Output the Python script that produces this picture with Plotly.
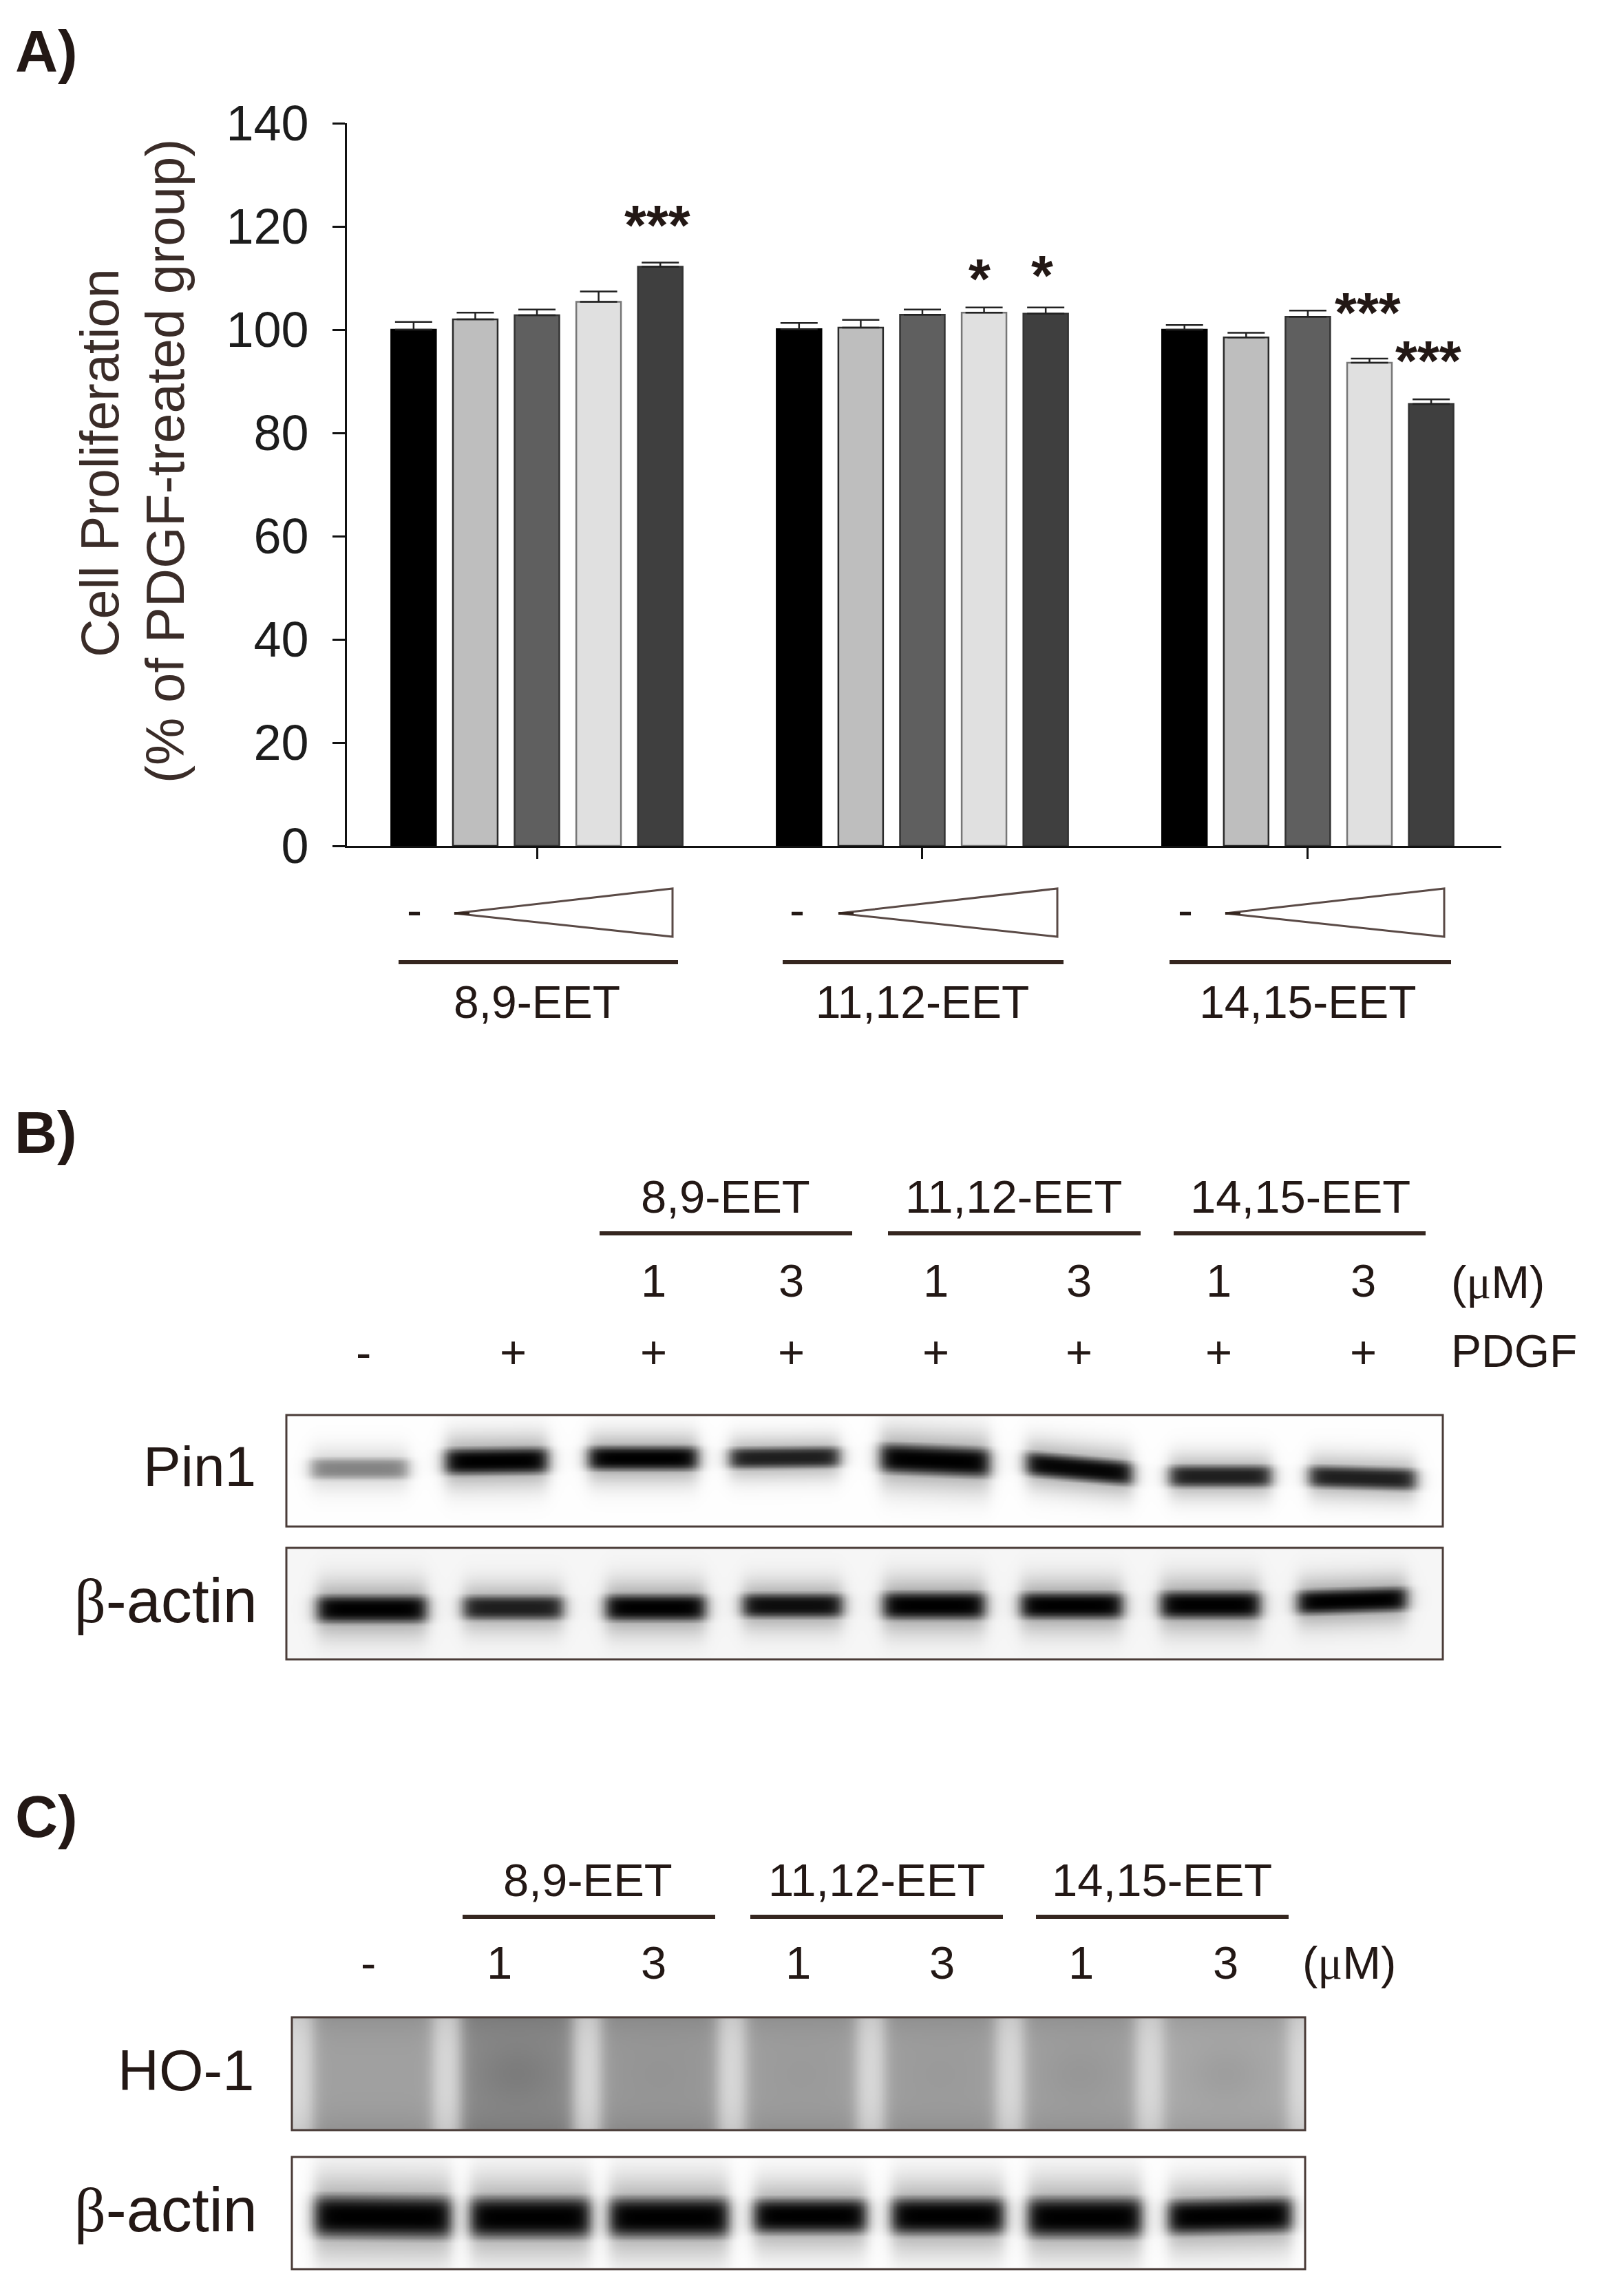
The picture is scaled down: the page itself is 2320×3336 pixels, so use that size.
import numpy as np
import plotly.graph_objects as go

W, H = 2320, 3336
SANS = "Liberation Sans, Arial, sans-serif"
TXT = "#231815"

# ---------- Panel A data ----------
groups = ["8,9-EET", "11,12-EET", "14,15-EET"]
dose_1 = [100.0, 100.1, 100.0]
dose_2 = [102.0, 100.4, 98.5]
dose_3 = [102.8, 102.9, 102.5]
dose_4 = [105.4, 103.3, 93.6]
dose_5 = [112.2, 103.1, 85.6]
err_1 = [1.5, 1.2, 0.9]
err_2 = [1.3, 1.5, 0.9]
err_3 = [1.1, 1.0, 1.2]
err_4 = [2.0, 1.0, 0.8]
err_5 = [0.8, 1.2, 0.9]
y_ticks = [0, 20, 40, 60, 80, 100, 120, 140]
fills = ["#000000", "#bebebe", "#5f5f5f", "#e0e0e0", "#3f3f3f"]
edges = ["#000000", "#2a2a2a", "#333333", "#777777", "#333333"]

# text, x, y (page pixels)
stars = [("***", 957, 314), ("*", 1425, 392), ("*", 1516, 387),
         ("***", 1989, 441), ("***", 2077, 511)]

# ---------- Blot data: (left, right, centre-left, centre-right, thickness, darkness) ----------
pin1_lanes = [
    (448, 597, 2134, 2134, 20, 0.48), (643, 800, 2124, 2122, 25, 1.0),
    (851, 1018, 2119, 2119, 23, 1.0), (1056, 1224, 2119, 2117, 20, 0.88),
    (1275, 1442, 2118, 2126, 28, 1.0), (1487, 1649, 2126, 2142, 23, 0.98),
    (1695, 1851, 2145, 2145, 21, 0.88), (1898, 2061, 2145, 2150, 21, 0.88),
]
actin_b_lanes = [
    (457, 624, 2338, 2338, 26, 1.0), (669, 822, 2336, 2336, 23, 0.88),
    (876, 1029, 2336, 2336, 25, 1.0), (1075, 1228, 2333, 2333, 23, 0.95),
    (1279, 1435, 2333, 2333, 26, 1.0), (1479, 1635, 2333, 2333, 25, 1.0),
    (1682, 1835, 2332, 2332, 26, 1.0), (1881, 2048, 2329, 2323, 23, 1.0),
]
actin_c_lanes = [
    (453, 660, 3220, 3222, 40, 1.0), (679, 862, 3222, 3222, 39, 1.0),
    (881, 1063, 3222, 3222, 38, 1.0), (1091, 1263, 3220, 3220, 33, 1.0),
    (1291, 1463, 3220, 3220, 35, 1.0), (1489, 1663, 3222, 3222, 38, 1.0),
    (1693, 1881, 3222, 3218, 33, 1.0),
]
# HO-1 smear: lane edges and grey levels
ho1_lane_edges = [435, 649, 853, 1063, 1265, 1467, 1670, 1891]
ho1_lane_grey = [160, 138, 152, 158, 158, 160, 170]
ho1_lane_core = [0, 14, 4, 4, 4, 9, 12]
ho1_stripe_grey = 218


def smooth(t):
    return 1.0 / (1.0 + np.exp(-t))


def band_image(x0, x1, y0, y1, lanes, bg):
    xs = np.arange(x0, x1, 2.0)
    ys = np.arange(y0, y1, 2.0)
    X, Y = np.meshgrid(xs, ys)
    keep = np.ones_like(X)
    for xl, xr, yl, yr, th, dark in lanes:
        t = (X - xl) / (xr - xl)
        dy = Y - (yl + (yr - yl) * t)
        ends = smooth((X - xl - 4) / 6) * smooth((xr - X - 4) / 6)
        core = np.exp(-np.abs(dy / (th * 0.85)) ** 3)
        halo = 0.38 * np.exp(-(dy / (th * 1.5)) ** 2)
        keep *= 1 - dark * np.clip(np.maximum(core, halo) * ends, 0, 1)
    return xs, ys, bg * keep


def ho1_image(x0, x1, y0, y1):
    xs = np.arange(x0, x1, 2.0)
    ys = np.arange(y0, y1, 2.0)
    X, Y = np.meshgrid(xs, ys)
    z = np.full(X.shape, float(ho1_stripe_grey))
    mid = (y0 + y1) / 2
    for i, g in enumerate(ho1_lane_grey):
        a, b = ho1_lane_edges[i] + 20, ho1_lane_edges[i + 1] - 20
        mask = smooth((X - a) / 6) * smooth((b - X) / 6)
        c = (a + b) / 2
        blob = np.exp(-((X - c) / 60) ** 2 - ((Y - mid) / 45) ** 2)
        z = z * (1 - mask) + (g - ho1_lane_core[i] * blob) * mask
    # edges of the membrane are a little darker than the middle
    z -= 14 * (np.abs(Y - mid) / ((y1 - y0) / 2)) ** 3
    return xs, ys, z


fig = go.Figure()

# ---------- Panel A bars ----------
series = [dose_1, dose_2, dose_3, dose_4, dose_5]
errors = [err_1, err_2, err_3, err_4, err_5]
for i, (vals, err) in enumerate(zip(series, errors)):
    fig.add_trace(go.Bar(
        x=groups, y=vals, name=f"dose {i + 1}",
        marker=dict(color=fills[i], line=dict(color=edges[i], width=2.5)),
        error_y=dict(type="data", array=err, arrayminus=[0, 0, 0], symmetric=False,
                     color="#222222", thickness=2.5, width=27),
        showlegend=False, hoverinfo="y",
    ))

# ---------- Blots ----------
gray = [[0, "#000000"], [1, "#ffffff"]]
blots = [
    band_image(418, 2094, 2058, 2217, pin1_lanes, 254.0),
    band_image(418, 2094, 2251, 2410, actin_b_lanes, 246.0),
    ho1_image(426, 1895, 2933, 3094),
    band_image(426, 1895, 3136, 3296, actin_c_lanes, 254.0),
]
for xs, ys, z in blots:
    fig.add_trace(go.Heatmap(x=xs, y=ys, z=z, zmin=0, zmax=255, colorscale=gray,
                             showscale=False, hoverinfo="skip", xaxis="x2", yaxis="y2"))

# ---------- Page-pixel annotations and shapes ----------
ann = []


def text(s, x, y, size=67, anchor="center", bold=False, color=TXT, angle=0):
    ann.append(dict(text=f"<b>{s}</b>" if bold else s, x=x, y=y, xref="x2", yref="y2",
                    showarrow=False, xanchor=anchor, yanchor="middle", textangle=angle,
                    font=dict(family=SANS, size=size, color=color)))


shapes = []


def hline(x0, x1, y, width=6, color="#35261f"):
    shapes.append(dict(type="line", x0=x0, x1=x1, y0=y, y1=y, xref="x2", yref="y2",
                       line=dict(color=color, width=width)))


def frame(x0, x1, y0, y1):
    shapes.append(dict(type="rect", x0=x0, x1=x1, y0=y0, y1=y1, xref="x2", yref="y2",
                       line=dict(color="#4a3c38", width=3), layer="above"))


MU = '<span style="font-family:Liberation Serif">μ</span>'
BETA = '<span style="font-family:Liberation Serif">β</span>'

text("A)", 20, 74, 86, "left", True)
text("B)", 19, 1645, 86, "left", True)
text("C)", 20, 2639, 86, "left", True)

text("Cell Proliferation", 145, 673, 77, angle=-90, color="#3a2c28")
text("(% of PDGF-treated group)", 240, 670, 78, angle=-90, color="#3a2c28")

for s, x, y in stars:
    text(s, x - 2, y + 12, 82, bold=True)

# dose triangles under panel A
tri_tips = [660, 1218, 1780]
tri_right = [977, 1536, 2098]
dash_x = [602, 1158, 1722]
rule_a = [(579, 985), (1137, 1545), (1699, 2108)]
for tip, right, dx, (a, b) in zip(tri_tips, tri_right, dash_x, rule_a):
    shapes.append(dict(type="path", xref="x2", yref="y2",
                       path=f"M {tip} 1327 L {right} 1291 L {right} 1361 Z",
                       line=dict(color="#5a4a46", width=3), fillcolor="white"))
    shapes.append(dict(type="line", xref="x2", yref="y2", x0=tip, x1=tip + 22, y0=1327, y1=1327,
                       line=dict(color="#35261f", width=4)))
    text("-", dx, 1322, 66)
    hline(a, b, 1398)

# Panel B header
b_names = [("8,9-EET", 1054), ("11,12-EET", 1472), ("14,15-EET", 1889)]
b_rules = [(871, 1238), (1290, 1657), (1705, 2071)]
b_dose = [("1", 949), ("3", 1149), ("1", 1359), ("3", 1567), ("1", 1770), ("3", 1980)]
b_pdgf = [("-", 528), ("+", 745), ("+", 949), ("+", 1149), ("+", 1359), ("+", 1567), ("+", 1770), ("+", 1980)]
for s, x in b_names:
    text(s, x, 1738)
for a, b in b_rules:
    hline(a, b, 1792)
for s, x in b_dose:
    text(s, x, 1860)
for s, x in b_pdgf:
    text(s, x, 1964)
text(f"({MU}M)", 2106, 1862, 67, "left")
text("PDGF", 2106, 1963, 66, "left")
text("Pin1", 374, 2130, 82, "right")
text(f"{BETA}-actin", 376, 2326, 90, "right")
frame(416, 2096, 2056, 2218)
frame(416, 2096, 2249, 2411)

# Panel C header
c_names = [("8,9-EET", 854), ("11,12-EET", 1273), ("14,15-EET", 1688)]
c_rules = [(672, 1039), (1090, 1457), (1505, 1872)]
c_dose = [("-", 535), ("1", 725), ("3", 949), ("1", 1159), ("3", 1368), ("1", 1570), ("3", 1780)]
for s, x in c_names:
    text(s, x, 2731)
for a, b in c_rules:
    hline(a, b, 2785)
for s, x in c_dose:
    text(s, x, 2851)
text(f"({MU}M)", 1890, 2851, 67, "left")
text("HO-1", 371, 3008, 83, "right")
text(f"{BETA}-actin", 376, 3211, 90, "right")
frame(424, 1896, 2931, 3095)
frame(424, 1896, 3134, 3297)

fig.update_layout(
    width=W, height=H, margin=dict(l=0, r=0, t=0, b=0),
    paper_bgcolor="white", plot_bgcolor="rgba(0,0,0,0)",
    barmode="group", bargap=0.2, bargroupgap=0.275,
    annotations=ann, shapes=shapes,
    xaxis=dict(domain=[504 / W, 2181 / W], range=[-0.493, 2.502], type="category",
               showline=True, linecolor="#111111", linewidth=3, ticks="outside",
               ticklen=16, tickwidth=3, tickcolor="#111111", showgrid=False, zeroline=False,
               tickfont=dict(family=SANS, size=66, color=TXT), ticklabelstandoff=152,
               anchor="y", fixedrange=True, automargin=False),
    yaxis=dict(domain=[1 - 1229 / H, 1 - 179 / H], range=[0, 140], tickvals=y_ticks,
               showline=True, linecolor="#111111", linewidth=3, ticks="outside",
               ticklen=18, tickwidth=3, tickcolor="#111111", showgrid=False, zeroline=False,
               tickfont=dict(family=SANS, size=72, color="#1c1c1c"), ticklabelstandoff=20,
               anchor="x", fixedrange=True, automargin=False),
    xaxis2=dict(domain=[0, 1], range=[0, W], visible=False, anchor="y2", fixedrange=True,
                automargin=False),
    yaxis2=dict(domain=[0, 1], range=[H, 0], visible=False, anchor="x2", fixedrange=True,
                automargin=False),
)

fig.write_html("out.html", config={"displayModeBar": False},
               post_script="document.body.style.margin='0';")
